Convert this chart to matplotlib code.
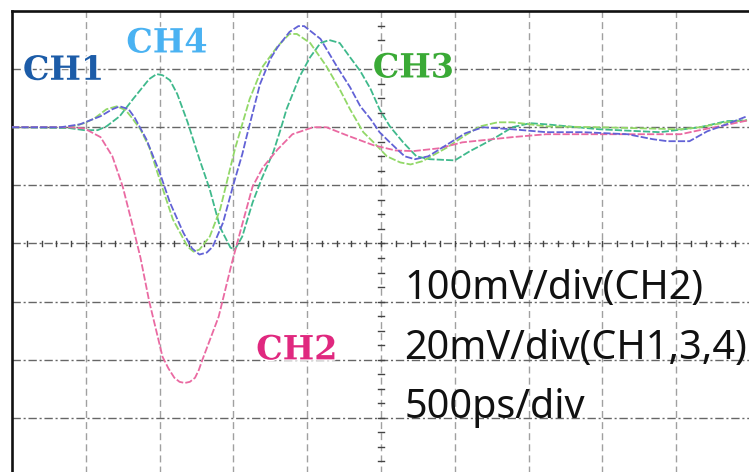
import matplotlib
matplotlib.use('Agg')
import matplotlib.pyplot as plt
import matplotlib.patheffects as pe
import numpy as np

# Scope capture: time in ns, amplitude in mV (relative to the trace baseline)
t_ch1 = [0.00, 0.33, 0.46, 0.60, 0.68, 0.73, 0.79, 0.83, 0.91, 1.00, 1.07, 1.16,
         1.22, 1.27, 1.32, 1.36, 1.43, 1.50, 1.56, 1.59, 1.68, 1.75, 1.80, 1.88,
         1.94, 1.98, 2.09, 2.20, 2.29, 2.36, 2.43, 2.49, 2.56, 2.66, 2.73, 2.82,
         2.95, 3.07, 3.19, 3.39, 3.62, 3.87, 4.17, 4.34, 4.44, 4.59, 4.71, 4.84, 4.98]
v_ch1 = [0.0, 0.0, 1.0, 3.8, 6.2, 7.2, 6.2, 3.4, -4.1, -15.5, -25.9, -36.2,
         -41.7, -43.8, -43.1, -41.1, -32.8, -19.7, -9.3, -3.1, 14.8, 23.5, 27.6, 32.8,
         34.8, 34.8, 30.4, 21.0, 13.8, 7.2, 2.8, -1.7, -5.2, -10.0, -11.0, -10.0,
         -5.9, -2.1, 0.0, -0.7, -1.7, -1.7, -2.4, -4.1, -4.8, -4.8, -1.4, 1.0, 3.8]

t_ch2 = [0.00, 0.39, 0.49, 0.60, 0.68, 0.75, 0.82, 0.87, 0.93, 1.02, 1.06, 1.10,
         1.135, 1.17, 1.205, 1.24, 1.265, 1.29, 1.40, 1.49, 1.56, 1.63, 1.70, 1.80,
         1.90, 2.04, 2.13, 2.27, 2.45, 2.60, 2.72, 2.90, 3.05, 3.39, 3.62, 4.53,
         4.66, 4.80, 4.99]
v_ch2 = [0, 0, -2, -17, -50, -102, -172, -224, -300, -395, -415, -431,
         -438, -440, -438, -431, -418, -400, -326, -233, -167, -102, -69, -38,
         -12, 0, 0, -14, -31, -40, -41, -36, -26, -17, -12, -12,
         -5, 2, 12]

t_ch3 = [0.00, 0.39, 0.49, 0.56, 0.64, 0.71, 0.77, 0.81, 0.87, 0.93, 1.00, 1.09,
         1.19, 1.23, 1.27, 1.34, 1.41, 1.46, 1.51, 1.54, 1.61, 1.70, 1.80, 1.88,
         1.93, 2.02, 2.13, 2.22, 2.29, 2.38, 2.45, 2.54, 2.63, 2.70, 2.78, 2.95,
         3.06, 3.17, 3.29, 3.39, 3.51, 3.62, 3.98, 4.53, 4.66, 4.84, 4.98]
v_ch3 = [0.0, 0.0, 1.4, 3.1, 6.2, 7.2, 5.9, 3.4, -0.7, -6.9, -17.9, -31.7,
         -41.1, -42.8, -42.1, -37.6, -28.3, -17.9, -7.6, -2.4, 9.7, 21.0, 27.9, 32.1,
         32.1, 29.0, 21.0, 13.1, 6.2, -1.7, -5.2, -10.0, -12.1, -12.8, -11.7, -6.9,
         -3.1, 0.3, 1.7, 1.7, 1.0, 0.3, 0.0, -0.7, 0.0, 1.7, 2.4]

t_ch4 = [0.00, 0.39, 0.49, 0.58, 0.64, 0.73, 0.82, 0.89, 0.93, 0.98, 1.02, 1.07,
         1.12, 1.19, 1.27, 1.34, 1.41, 1.48, 1.51, 1.56, 1.63, 1.69, 1.77, 1.82,
         1.86, 1.95, 2.02, 2.09, 2.15, 2.22, 2.29, 2.36, 2.43, 2.49, 2.56, 2.65,
         2.74, 2.83, 3.00, 3.10, 3.19, 3.29, 3.39, 3.51, 3.62, 3.98, 4.39, 4.66,
         4.84, 4.98]
v_ch4 = [0.0, -0.3, -1.0, -1.0, 0.3, 3.8, 9.7, 14.1, 16.6, 18.3, 17.9, 16.2,
         11.4, 1.7, -11.0, -21.4, -34.5, -41.4, -42.1, -37.6, -25.9, -17.9, -8.6, -0.7,
         6.2, 17.6, 24.1, 29.0, 30.0, 29.0, 24.1, 19.3, 13.1, 6.2, 0.3, -5.2,
         -10.0, -11.0, -11.4, -8.3, -5.9, -3.1, 0.0, 1.4, 1.0, -0.7, -1.7, 0.0,
         2.1, 2.4]

# vertical scales (mV/div), baseline position (div) and timebase (ns/div)
scale = {'CH1': 20, 'CH2': 100, 'CH3': 20, 'CH4': 20}
BASE = 2.0
TDIV = 0.5

# trace / label colours
TRACE = {'CH1': '#6262d6', 'CH2': '#ea6aa2', 'CH3': '#92d868', 'CH4': '#3fb98c'}
LABEL = {'CH1': '#1c5ca8', 'CH2': '#e0287f', 'CH3': '#3aaa36', 'CH4': '#4ab2f2'}

fig = plt.figure(figsize=(7.49, 4.72), dpi=100)
ax = fig.add_axes([12/749, -4/472, 738/749, 465/472])
ax.set_xlim(0, 10*TDIV)
ax.set_ylim(-4, 4)
ax.set_xticks([])
ax.set_yticks([])
for s in ('right', 'bottom'):
    ax.spines[s].set_visible(False)
for s in ('left', 'top'):
    ax.spines[s].set_linewidth(1.9)
    ax.spines[s].set_color('#111111')

# graticule
for k in range(1, 10):
    ax.axvline(k*TDIV, color='#a0a0a0', lw=1.0, dashes=(5, 3), zorder=1)
for k in range(-3, 4):
    ax.axhline(k, color='#666666', lw=1.0, dashes=(6, 2, 1.5, 2), zorder=1)

# minor ticks on the centre axes
for tx in np.arange(0, 10*TDIV + 1e-9, TDIV/5):
    ax.plot([tx, tx], [-0.05, 0.05], color='#444444', lw=1.0, zorder=1)
for ty in np.arange(-4, 4 + 1e-9, 0.25):
    ax.plot([5*TDIV - 0.02, 5*TDIV + 0.02], [ty, ty], color='#444444', lw=1.0, zorder=1)

traces = [('CH4', t_ch4, v_ch4), ('CH3', t_ch3, v_ch3),
          ('CH2', t_ch2, v_ch2), ('CH1', t_ch1, v_ch1)]
for name, t, v in traces:
    y = BASE + np.asarray(v, float) / scale[name]
    ax.plot(t, y, color=TRACE[name], lw=1.3, dashes=(4, 1.2), zorder=3)

# channel tags
tags = [('CH1', 0.35, 2.98), ('CH4', 1.05, 3.45), ('CH3', 2.72, 3.02), ('CH2', 1.93, -1.83)]
for name, x, y in tags:
    ax.text(x, y, name, color=LABEL[name], fontsize=24, fontweight='bold',
            family='DejaVu Serif', ha='center', va='center', zorder=5,
            path_effects=[pe.withStroke(linewidth=2, foreground='white')])

# settings readout
info = ['100mV/div(CH2)', '20mV/div(CH1,3,4)', '500ps/div']
for i, s in enumerate(info):
    ax.text(2.66, -0.95 - 1.03*i, s, fontsize=28.5, family='Noto Sans',
            color='#111111', ha='left', va='baseline', zorder=5)

fig.savefig('out.png', dpi=100)
